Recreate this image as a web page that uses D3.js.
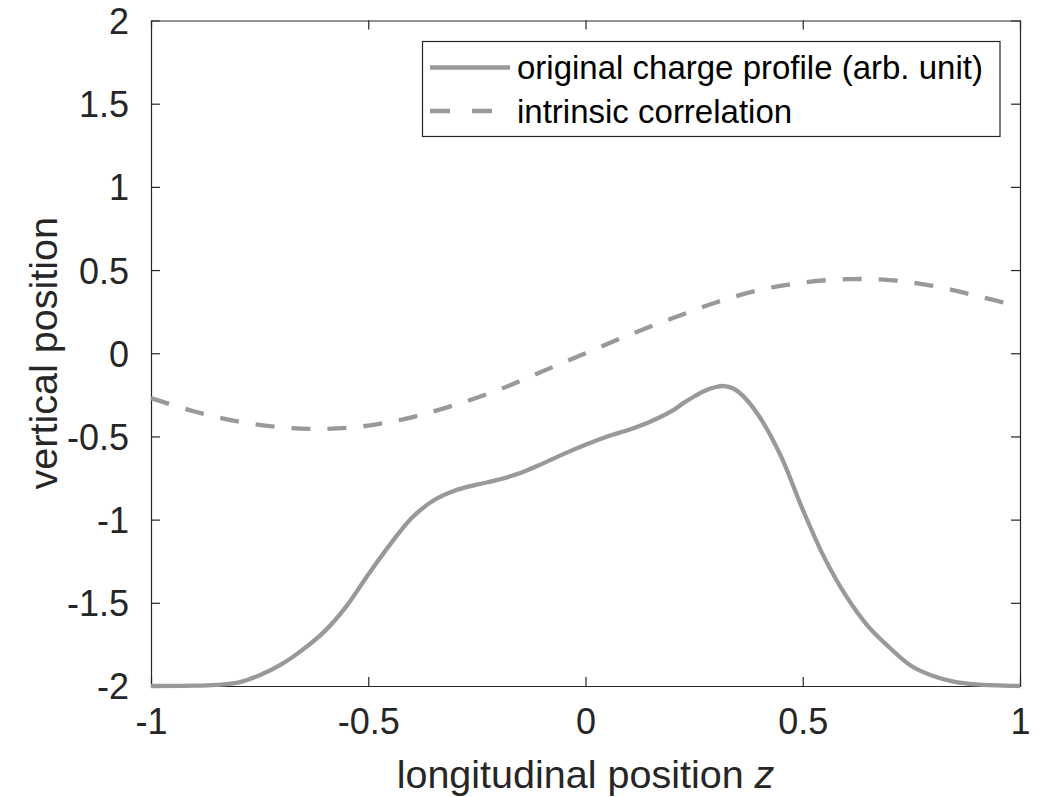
<!DOCTYPE html>
<html>
<head>
<meta charset="utf-8">
<script src="https://cdn.jsdelivr.net/npm/d3@7"></script>
<style>
  html, body { margin: 0; padding: 0; background: #fff; }
  svg { display: block; font-family: "Liberation Sans", Arial, Helvetica, sans-serif; }
</style>
</head>
<body>
<svg id="chart" width="1046" height="797"></svg>
<script>
// ---- data ----
const xTicks = [-1, -0.5, 0, 0.5, 1];
const yTicks = [-2, -1.5, -1, -0.5, 0, 0.5, 1, 1.5, 2];
const xTickLabels = ["-1", "-0.5", "0", "0.5", "1"];
const yTickLabels = ["-2", "-1.5", "-1", "-0.5", "0", "0.5", "1", "1.5", "2"];

const chargeZ = [-1, -0.9, -0.85, -0.8, -0.75, -0.7, -0.65, -0.6, -0.55, -0.5, -0.45, -0.4, -0.35, -0.3, -0.25, -0.2, -0.15, -0.1, -0.05, 0, 0.05, 0.1, 0.15, 0.2, 0.225, 0.25, 0.275, 0.3, 0.32, 0.34, 0.36, 0.4, 0.45, 0.5, 0.55, 0.6, 0.65, 0.7, 0.75, 0.8, 0.85, 0.9, 1];
const chargeV = [-2, -1.998, -1.993, -1.98, -1.935, -1.87, -1.78, -1.67, -1.52, -1.33, -1.15, -0.99, -0.885, -0.825, -0.79, -0.76, -0.72, -0.665, -0.605, -0.55, -0.5, -0.46, -0.41, -0.345, -0.3, -0.26, -0.225, -0.203, -0.197, -0.212, -0.25, -0.38, -0.62, -0.94, -1.23, -1.46, -1.64, -1.77, -1.88, -1.94, -1.975, -1.99, -2];

const corrZ = [-1, -0.9, -0.8, -0.7, -0.6, -0.5, -0.4, -0.3, -0.2, -0.1, 0, 0.1, 0.2, 0.3, 0.4, 0.5, 0.6, 0.7, 0.8, 0.9, 1];
const corrV = [-0.27, -0.35, -0.41, -0.445, -0.455, -0.435, -0.385, -0.31, -0.22, -0.11, 0, 0.11, 0.21, 0.305, 0.38, 0.425, 0.445, 0.44, 0.405, 0.345, 0.28];

const seriesNames = ["original charge profile (arb. unit)", "intrinsic correlation"];
const xLabel = "longitudinal position ";
const xLabelVar = "z";
const yLabel = "vertical position";

// ---- layout ----
const L = 151, R = 1020, T = 20.5, B = 686;
const axisColor = "#262626";
const lineColor = "#999999";

const svg = d3.select("#chart");
const x = d3.scaleLinear().domain([-1, 1]).range([L, R]);
const y = d3.scaleLinear().domain([-2, 2]).range([B, T]);

const tickLen = 9;

// axes (ticks inside)
const gx = svg.append("g").attr("transform", `translate(0,${B})`)
  .call(d3.axisBottom(x).tickValues(xTicks).tickSize(-tickLen).tickPadding(22)
        .tickFormat((d, i) => xTickLabels[i]));
const gxTop = svg.append("g").attr("transform", `translate(0,${T})`)
  .call(d3.axisTop(x).tickValues(xTicks).tickSize(-tickLen).tickFormat(""));
const gy = svg.append("g").attr("transform", `translate(${L},0)`)
  .call(d3.axisLeft(y).tickValues(yTicks).tickSize(-tickLen).tickPadding(22)
        .tickFormat((d, i) => yTickLabels[i]));
const gyRight = svg.append("g").attr("transform", `translate(${R},0)`)
  .call(d3.axisRight(y).tickValues(yTicks).tickSize(-tickLen).tickFormat(""));

[gx, gxTop, gy, gyRight].forEach(g => {
  g.select(".domain").attr("stroke", axisColor).attr("stroke-width", 1.2);
  g.selectAll(".tick line").attr("stroke", axisColor).attr("stroke-width", 1.2);
  g.selectAll(".tick text").attr("fill", axisColor).attr("font-size", 36)
    .attr("font-family", "Liberation Sans, Arial, sans-serif");
});
// remove end ticks duplicating box edges
[gx, gxTop].forEach(g => g.selectAll(".tick").filter(d => d === -1 || d === 1).select("line").remove());
[gy, gyRight].forEach(g => g.selectAll(".tick").filter(d => d === -2 || d === 2).select("line").remove());
gy.selectAll(".tick text").attr("dy", "0.36em");
gx.selectAll(".tick text").attr("dy", "0.71em");

// curves
const line = d3.line().x(d => x(d[0])).y(d => y(d[1])).curve(d3.curveCatmullRom.alpha(0.5));
const chargeData = chargeZ.map((z, i) => [z, chargeV[i]]);
const corrData = corrZ.map((z, i) => [z, corrV[i]]);

svg.append("path").datum(corrData).attr("d", line)
  .attr("fill", "none").attr("stroke", lineColor).attr("stroke-width", 4.3)
  .attr("stroke-dasharray", "19 17");
svg.append("path").datum(chargeData).attr("d", line)
  .attr("fill", "none").attr("stroke", lineColor).attr("stroke-width", 4.3);

// axis labels
const xl = svg.append("text").attr("x", (L + R) / 2).attr("y", 788)
  .attr("text-anchor", "middle").attr("font-size", 39.5).attr("fill", axisColor);
xl.append("tspan").text(xLabel);
xl.append("tspan").attr("font-style", "italic").text(xLabelVar);

svg.append("text").attr("transform", `translate(57,${(T + B) / 2}) rotate(-90)`)
  .attr("text-anchor", "middle").attr("font-size", 39.5).attr("fill", axisColor)
  .text(yLabel);

// legend
const lg = svg.append("g");
lg.append("rect").attr("x", 422.5).attr("y", 41.5).attr("width", 577.5).attr("height", 95)
  .attr("fill", "#fff").attr("stroke", axisColor).attr("stroke-width", 1.2);
const legendRows = [{ y: 67.5, dash: null }, { y: 111, dash: "20 22" }];
legendRows.forEach((r, i) => {
  lg.append("line").attr("x1", 430).attr("x2", 510).attr("y1", r.y).attr("y2", r.y)
    .attr("stroke", lineColor).attr("stroke-width", 4.3)
    .attr("stroke-dasharray", r.dash);
  lg.append("text").attr("x", 517).attr("y", r.y).attr("dy", "0.36em")
    .attr("font-size", 33).attr("fill", "#000").text(seriesNames[i]);
});
</script>
</body>
</html>
